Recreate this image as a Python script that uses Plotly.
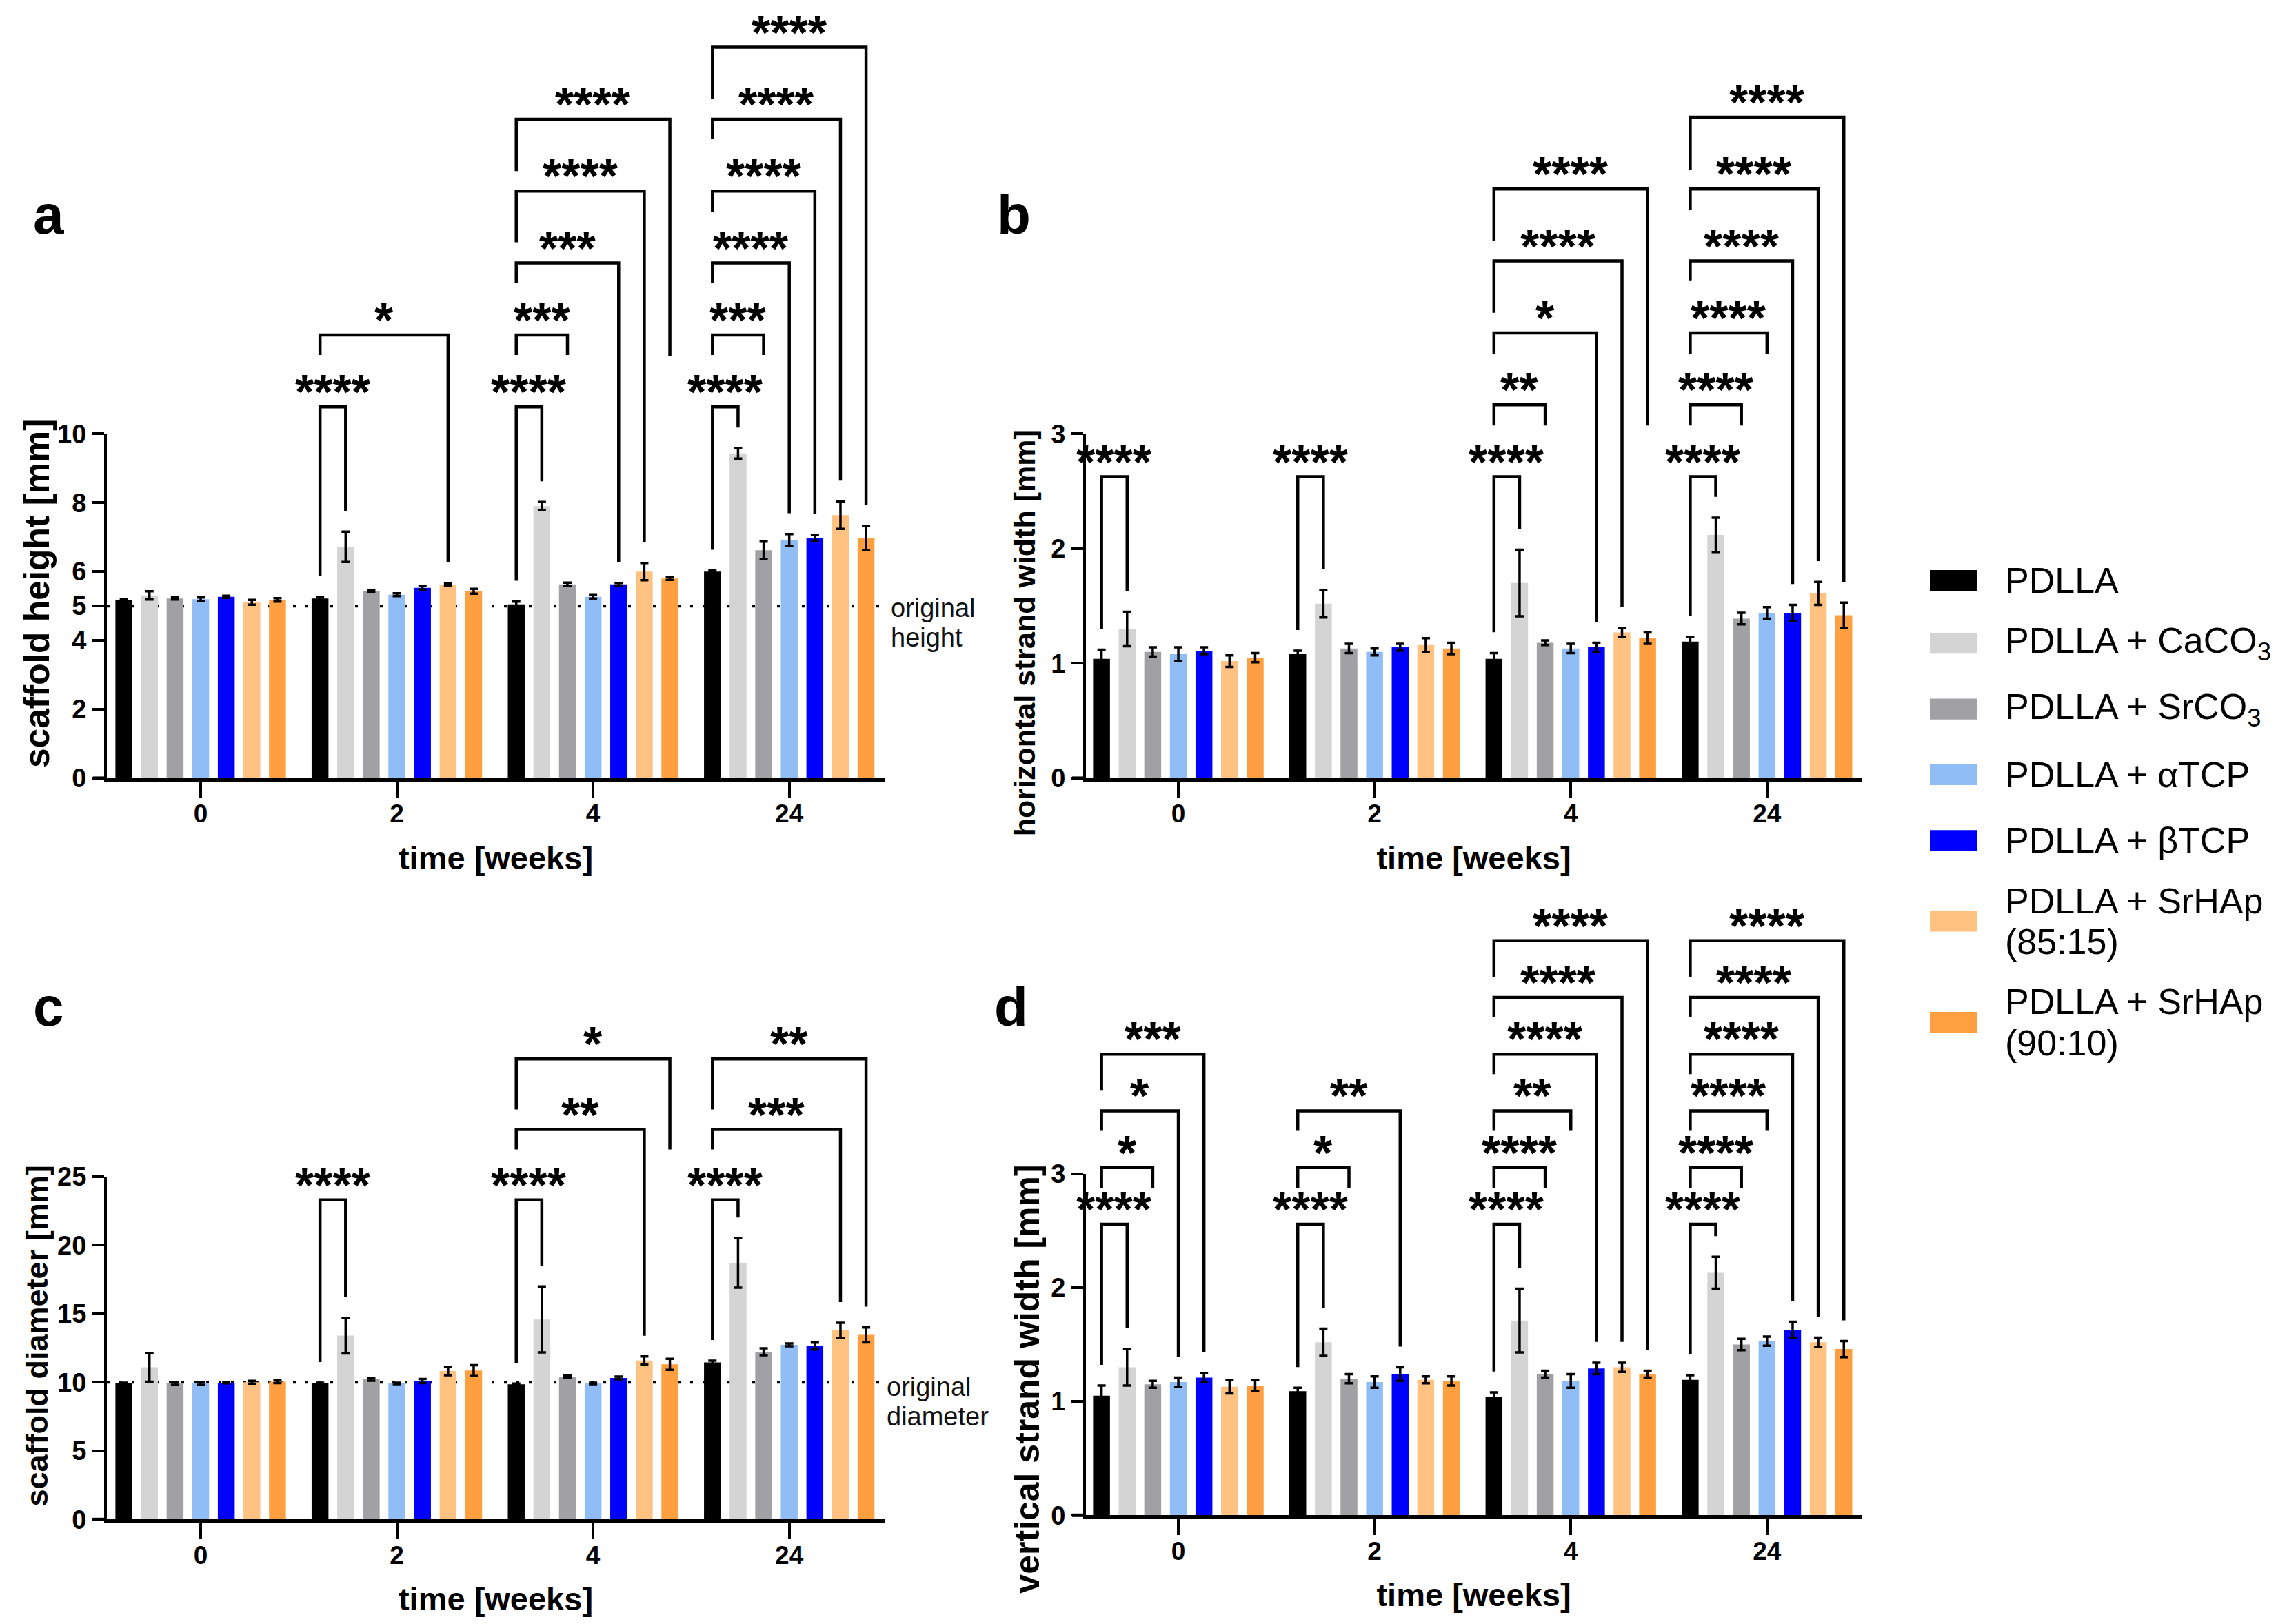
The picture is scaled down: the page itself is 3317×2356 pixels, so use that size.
import plotly.graph_objects as go

# ---------------- data ----------------
weeks = ["0", "2", "4", "24"]
series_names = ["PDLLA", "PDLLA + CaCO<sub>3</sub>", "PDLLA + SrCO<sub>3</sub>",
                "PDLLA + αTCP", "PDLLA + βTCP",
                "PDLLA + SrHAp<br>(85:15)", "PDLLA + SrHAp<br>(90:10)"]
colors = ["#000000", "#d4d4d4", "#a1a1a5", "#91bdf7", "#0000ff", "#ffc281", "#ff9f40"]

# (a) scaffold height [mm]; rows = series, columns = weeks
height_means = [[5.17, 5.22, 5.05, 6.00],
                [5.31, 6.72, 7.90, 9.43],
                [5.22, 5.43, 5.63, 6.62],
                [5.20, 5.33, 5.27, 6.92],
                [5.27, 5.53, 5.63, 6.98],
                [5.11, 5.62, 6.00, 7.64],
                [5.18, 5.43, 5.80, 6.98]]
height_errs = [[0.03, 0.04, 0.08, 0.03],
               [0.12, 0.44, 0.12, 0.15],
               [0.03, 0.03, 0.05, 0.25],
               [0.05, 0.04, 0.05, 0.17],
               [0.03, 0.05, 0.04, 0.08],
               [0.07, 0.04, 0.25, 0.40],
               [0.05, 0.07, 0.04, 0.35]]

# (b) horizontal strand width [mm]
hwidth_means = [[1.04, 1.08, 1.04, 1.19],
                [1.30, 1.52, 1.70, 2.12],
                [1.10, 1.13, 1.18, 1.39],
                [1.08, 1.10, 1.13, 1.44],
                [1.11, 1.14, 1.14, 1.44],
                [1.02, 1.16, 1.27, 1.61],
                [1.05, 1.13, 1.22, 1.42]]
hwidth_errs = [[0.08, 0.03, 0.05, 0.04],
               [0.15, 0.12, 0.29, 0.15],
               [0.04, 0.04, 0.02, 0.05],
               [0.06, 0.03, 0.04, 0.05],
               [0.03, 0.03, 0.04, 0.07],
               [0.05, 0.06, 0.04, 0.10],
               [0.04, 0.05, 0.05, 0.11]]

# (c) scaffold diameter [mm]
diam_means = [[9.91, 9.91, 9.85, 11.45],
              [11.09, 13.40, 14.58, 18.70],
              [9.91, 10.22, 10.42, 12.22],
              [9.91, 9.91, 9.91, 12.73],
              [9.95, 10.09, 10.31, 12.64],
              [10.00, 10.82, 11.58, 13.78],
              [10.04, 10.85, 11.31, 13.45]]
diam_errs = [[0.05, 0.05, 0.05, 0.12],
             [1.05, 1.30, 2.40, 1.80],
             [0.10, 0.10, 0.08, 0.25],
             [0.10, 0.05, 0.05, 0.10],
             [0.03, 0.15, 0.10, 0.25],
             [0.10, 0.30, 0.30, 0.55],
             [0.10, 0.40, 0.40, 0.55]]

# (d) vertical strand width [mm]
vwidth_means = [[1.05, 1.09, 1.04, 1.19],
                [1.30, 1.52, 1.71, 2.13],
                [1.15, 1.20, 1.24, 1.50],
                [1.17, 1.17, 1.18, 1.53],
                [1.21, 1.24, 1.29, 1.63],
                [1.13, 1.19, 1.30, 1.52],
                [1.14, 1.18, 1.24, 1.46]]
vwidth_errs = [[0.09, 0.03, 0.04, 0.04],
               [0.16, 0.12, 0.28, 0.14],
               [0.03, 0.04, 0.03, 0.05],
               [0.04, 0.05, 0.06, 0.04],
               [0.04, 0.06, 0.05, 0.07],
               [0.06, 0.03, 0.04, 0.04],
               [0.05, 0.04, 0.03, 0.07]]

# significance brackets: (week index, compared series index, level, stars,
#                         left-leg length px or None=down to bar, right-leg length px or None)
sig_height = [(1, 1, 1, "****", None, None), (1, 5, 2, "*", 29, None),
              (2, 1, 1, "****", None, None), (2, 2, 2, "***", 29, 29), (2, 4, 3, "***", 29, None),
              (2, 5, 4, "****", 74, None), (2, 6, 5, "****", 75, 342),
              (3, 1, 1, "****", None, None), (3, 2, 2, "***", 29, 29), (3, 3, 3, "****", 29, None),
              (3, 4, 4, "****", 30, None), (3, 5, 5, "****", 29, None), (3, 6, 6, "****", 75, None)]
sig_hwidth = [(0, 1, 1, "****", None, None), (1, 1, 1, "****", None, None),
              (2, 1, 1, "****", None, None), (2, 2, 2, "**", 30, 30), (2, 4, 3, "*", 30, None),
              (2, 5, 4, "****", 75, None), (2, 6, 5, "****", 75, 342),
              (3, 1, 1, "****", None, None), (3, 2, 2, "****", 30, 30), (3, 3, 3, "****", 30, 30),
              (3, 4, 4, "****", 28, None), (3, 5, 5, "****", 30, None), (3, 6, 6, "****", 76, None)]
sig_diam = [(1, 1, 1, "****", None, None),
            (2, 1, 1, "****", None, None), (2, 5, 2, "**", 29, None), (2, 6, 3, "*", 73, 131),
            (3, 1, 1, "****", None, None), (3, 5, 2, "***", 29, None), (3, 6, 3, "**", 73, None)]
sig_vwidth = [(0, 1, 1, "****", None, None), (0, 2, 2, "*", 30, 30), (0, 3, 3, "*", 29, None),
              (0, 4, 4, "***", 53, None),
              (1, 1, 1, "****", None, None), (1, 2, 2, "*", 30, 30), (1, 4, 3, "**", 29, None),
              (2, 1, 1, "****", None, None), (2, 2, 2, "****", 30, 30), (2, 3, 3, "**", 29, 29),
              (2, 4, 4, "****", 29, None), (2, 5, 5, "****", 29, None), (2, 6, 6, "****", 53, None),
              (3, 1, 1, "****", None, None), (3, 2, 2, "****", 30, 30), (3, 3, 3, "****", 29, 29),
              (3, 4, 4, "****", 29, None), (3, 5, 5, "****", 29, None), (3, 6, 6, "****", 53, None)]

# ---------------- layout ----------------
W, H = 3317, 2356          # window size
OFF = 8                    # default page body margin
FW, FH = W - 2 * OFF, H - 2 * OFF
FONT = "Liberation Sans, Arial, sans-serif"
BARGAP = 0.0865
BARGROUPGAP = 0.341
PITCH = (1 - BARGAP) / 7.0
CY, SY = 1127.0, 1.0215    # vertical layout calibration
GAP_PX = 30 * SY


def Y(yp):
    return CY + (yp - CY) * SY


def px(xp):
    return (xp - OFF) / FW


def py(yp):
    return 1 - (Y(yp) - OFF) / FH


panels = [
    dict(lab="a", xa="x", ya="y", means=height_means, errs=height_errs, sig=sig_height,
         ymax=10, tickvals=[0, 2, 4, 5, 6, 8, 10], ytitle="scaffold height [mm]",
         ytitle_xy=(53, 861), ytitle_size=51.5,
         box=(155, 1283, 630, 1128), xr=[-0.478, 3.486], base_px=537, step_px=104,
         ref=5, reftext="original<br>height", ref_xy=(1290, 903), lab_xy=(70, 313)),
    dict(lab="b", xa="x2", ya="y2", means=hwidth_means, errs=hwidth_errs, sig=sig_hwidth,
         ymax=3, tickvals=[0, 1, 2, 3], ytitle="horizontal strand width [mm]",
         ytitle_xy=(1486, 918), ytitle_size=43,
         box=(1575, 2700, 630, 1128), xr=[-0.471, 3.482], base_px=436, step_px=104,
         ref=None, lab_xy=(1470, 313)),
    dict(lab="c", xa="x3", ya="y3", means=diam_means, errs=diam_errs, sig=sig_diam,
         ymax=25, tickvals=[0, 5, 10, 15, 20, 25], ytitle="scaffold diameter [mm]",
         ytitle_xy=(53, 1935), ytitle_size=45,
         box=(155, 1283, 1704, 2200), xr=[-0.478, 3.486], base_px=462, step_px=102,
         ref=10, reftext="original<br>diameter", ref_xy=(1284, 2030), lab_xy=(70, 1459)),
    dict(lab="d", xa="x4", ya="y4", means=vwidth_means, errs=vwidth_errs, sig=sig_vwidth,
         ymax=3, tickvals=[0, 1, 2, 3], ytitle="vertical strand width [mm]",
         ytitle_xy=(1490, 1997), ytitle_size=50,
         box=(1575, 2700, 1700, 2194), xr=[-0.471, 3.482], base_px=421, step_px=82,
         ref=None, lab_xy=(1466, 1459)),
]


def add_lines(annots, text, x, yc, spacing, size, color):
    """Place a multi-line text as one annotation per line, centred on yc (px)."""
    lines = text.split("<br>")
    n = len(lines)
    for k, line in enumerate(lines):
        yl = yc + (k - (n - 1) / 2.0) * spacing
        annots.append(dict(xref="paper", yref="paper", x=px(x), y=py(yl),
                           xanchor="left", yanchor="middle", align="left",
                           text=line, showarrow=False,
                           font=dict(family=FONT, size=size, color=color)))


fig = go.Figure()
shapes = []
annotations = []
layout_axes = {}

for p in panels:
    left, right, top, bottom = p["box"]
    xa, ya = p["xa"], p["ya"]
    for i in range(7):
        fig.add_trace(go.Bar(
            x=list(range(len(weeks))), y=p["means"][i], name=series_names[i],
            marker=dict(color=colors[i], line=dict(width=0)),
            error_y=dict(type="data", array=p["errs"][i], visible=True,
                         color="black", thickness=3.5, width=6),
            xaxis=xa, yaxis=ya, showlegend=False))

    xkey = "xaxis" + xa[1:]
    ykey = "yaxis" + ya[1:]
    layout_axes[xkey] = dict(
        domain=[px(left), px(right)], anchor=ya, range=p["xr"],
        tickvals=list(range(len(weeks))), ticktext=weeks,
        showline=True, linewidth=5, linecolor="black", mirror=False,
        ticks="outside", ticklen=24, tickwidth=4, tickcolor="black",
        ticklabelstandoff=-9,
        tickfont=dict(family=FONT, size=37, color="black", weight="bold"),
        showgrid=False, zeroline=False,
        title=dict(text="time [weeks]", font=dict(family=FONT, size=47, color="black", weight="bold"),
                   standoff=29))
    layout_axes[ykey] = dict(
        domain=[py(bottom), py(top)], anchor=xa, range=[0, p["ymax"]],
        tickvals=p["tickvals"],
        showline=True, linewidth=4, linecolor="black",
        ticks="outside", ticklen=18, tickwidth=4, tickcolor="black",
        tickfont=dict(family=FONT, size=38, color="black", weight="bold"),
        showgrid=False, zeroline=False)

    # y axis title
    annotations.append(dict(xref="paper", yref="paper", x=px(p["ytitle_xy"][0]),
                            y=py(p["ytitle_xy"][1]), text=p["ytitle"], textangle=-90,
                            showarrow=False, xanchor="center", yanchor="middle",
                            font=dict(family=FONT, size=p["ytitle_size"], color="black",
                                      weight="bold")))

    # small x-axis extension left of the y axis
    shapes.append(dict(type="line", xref="paper", yref="paper",
                       x0=px(left - 20), x1=px(left), y0=py(bottom), y1=py(bottom),
                       line=dict(color="black", width=5)))

    upp = p["ymax"] / float(Y(bottom) - Y(top))  # data units per pixel

    # reference (original size) line
    if p["ref"] is not None:
        shapes.append(dict(type="line", xref=xa + " domain", yref=ya, x0=0, x1=1,
                           y0=p["ref"], y1=p["ref"], layer="below",
                           line=dict(color="black", width=4, dash="4px,14px")))
        add_lines(annotations, p["reftext"], p["ref_xy"][0], p["ref_xy"][1], 43, 38, "#111111")

    # significance brackets
    for (g, j, lev, stars, lpx, rpx) in p["sig"]:
        xl = g + (0 - 3) * PITCH
        xr_ = g + (j - 3) * PITCH
        yk = (p["base_px"] + (lev - 1) * p["step_px"]) * SY * upp
        if lpx is None:
            yl = p["means"][0][g] + p["errs"][0][g] + GAP_PX * upp
        else:
            yl = yk - lpx * SY * upp
        if rpx is None:
            yr = p["means"][j][g] + p["errs"][j][g] + GAP_PX * upp
        else:
            yr = yk - rpx * SY * upp
        f = lambda v: v / p["ymax"]
        shapes.append(dict(type="path", xref=xa, yref=ya + " domain",
                           path="M %.5f,%.5f L %.5f,%.5f L %.5f,%.5f L %.5f,%.5f" % (
                               xl, f(yl), xl, f(yk), xr_, f(yk), xr_, f(yr)),
                           line=dict(color="black", width=4.5)))
        annotations.append(dict(xref=xa, yref=ya + " domain", x=(xl + xr_) / 2, y=f(yk),
                                text="<b>" + stars + "</b>", showarrow=False,
                                xanchor="center", yanchor="middle", yshift=21,
                                font=dict(family=FONT, size=70, color="black")))

    # panel letter
    annotations.append(dict(xref="paper", yref="paper", x=px(p["lab_xy"][0]),
                            y=py(p["lab_xy"][1]), text="<b>" + p["lab"] + "</b>",
                            showarrow=False, xanchor="center", yanchor="middle",
                            font=dict(family=FONT, size=80, color="black")))

# manual legend
legend_y = [842, 933, 1028, 1123, 1218, 1335, 1481]
for i in range(7):
    yc = legend_y[i]
    shapes.append(dict(type="rect", xref="paper", yref="paper",
                       x0=px(2799), x1=px(2867), y0=py(yc + 15), y1=py(yc - 15),
                       fillcolor=colors[i], line=dict(width=0)))
    add_lines(annotations, series_names[i], 2906, yc, 59, 52, "black")

fig.update_layout(
    width=FW, height=FH, margin=dict(l=0, r=0, t=0, b=0),
    paper_bgcolor="white", plot_bgcolor="white",
    barmode="group", bargap=BARGAP, bargroupgap=BARGROUPGAP,
    showlegend=False, shapes=shapes, annotations=annotations,
    **layout_axes)

fig.write_html("out.html")
